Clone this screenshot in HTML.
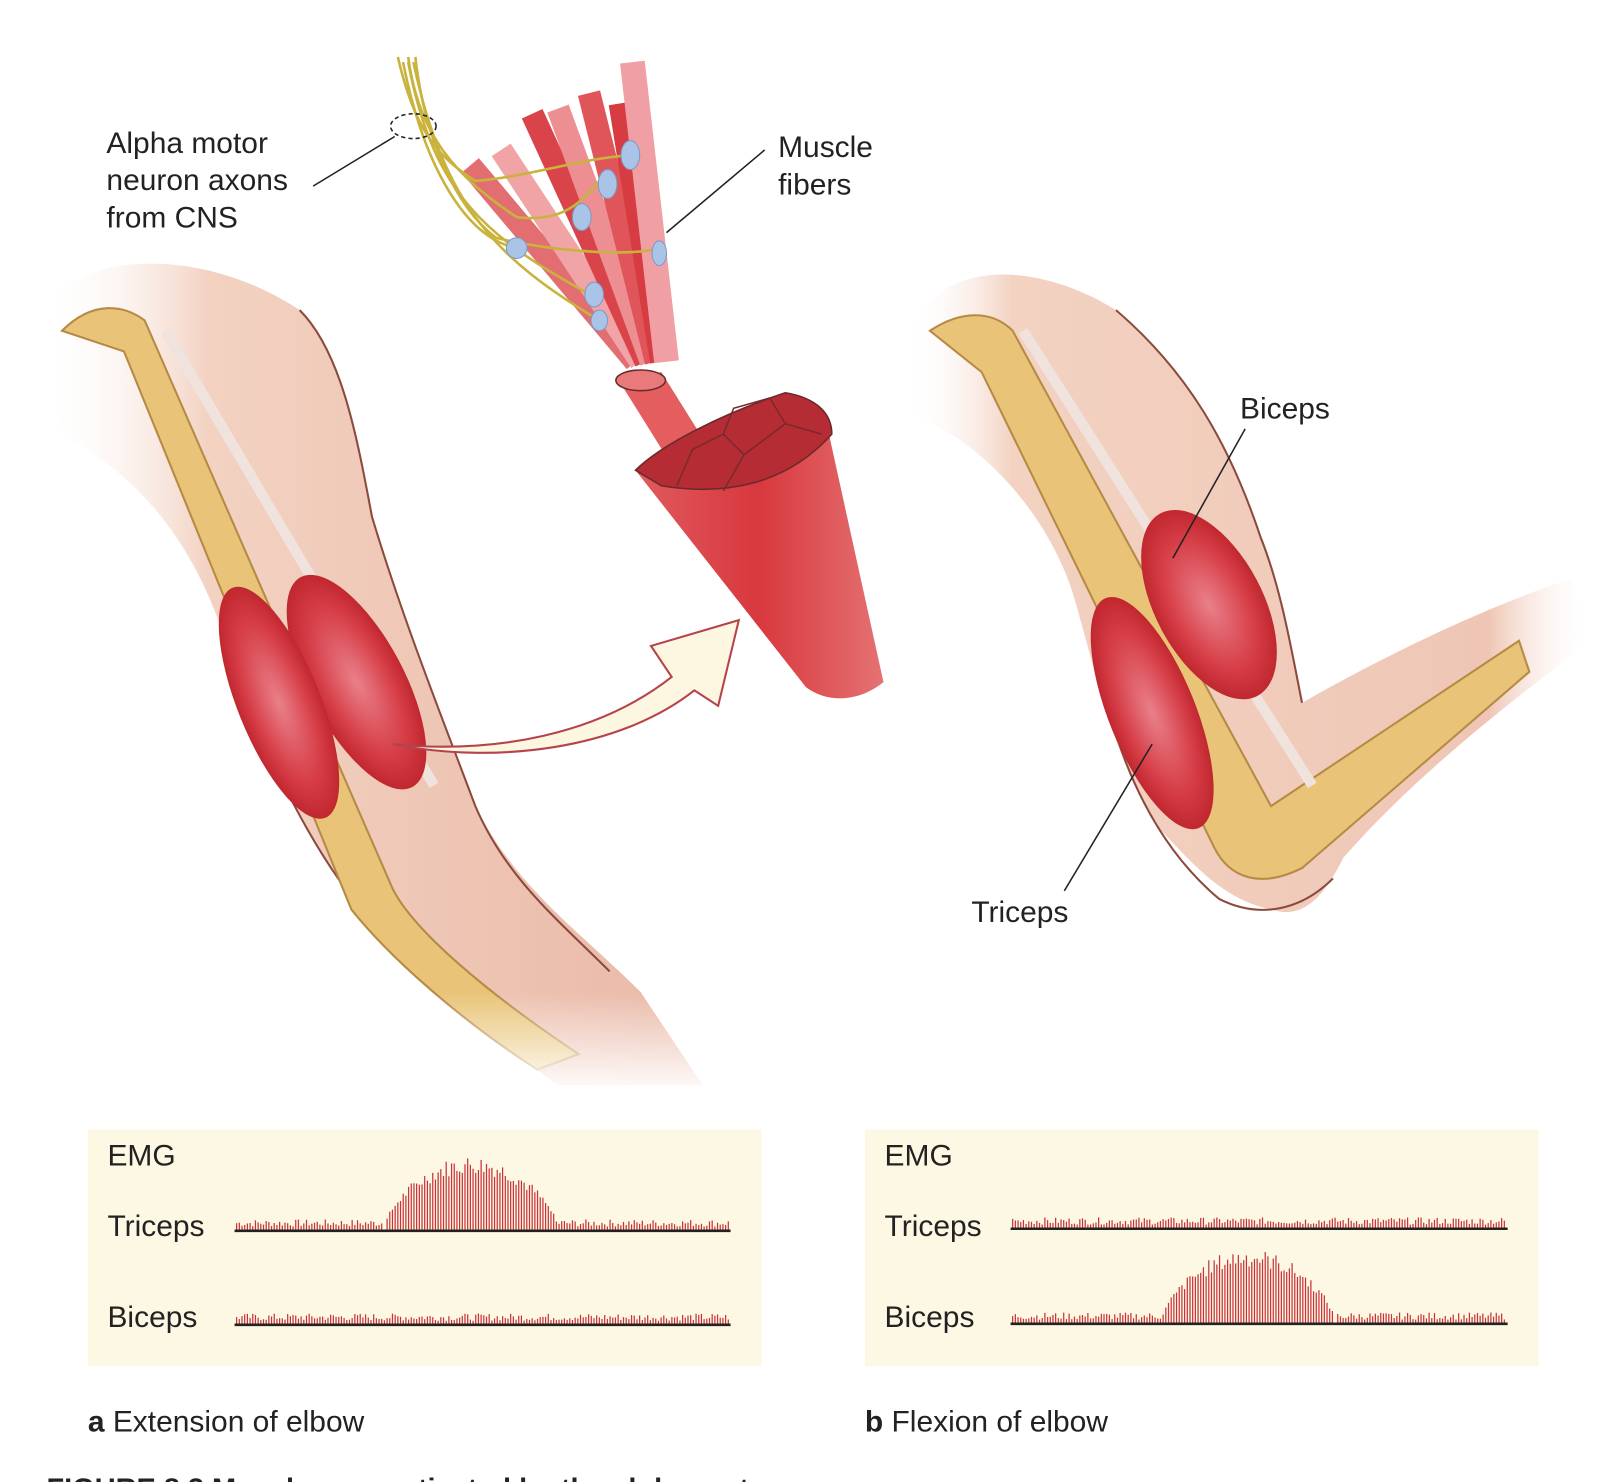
<!DOCTYPE html>
<html><head><meta charset="utf-8"><style>
html,body{margin:0;padding:0;background:#fff;width:1612px;height:1482px;overflow:hidden}
svg{display:block}
text{font-family:"Liberation Sans",sans-serif;fill:#222}
</style></head><body>
<svg id="s" width="1612" height="1482" viewBox="0 0 1560 1434" xmlns="http://www.w3.org/2000/svg">
<defs>
<linearGradient id="skinA" x1="0" y1="0" x2="1" y2="0">
<stop offset="0" stop-color="#fff" stop-opacity="0"/><stop offset="0.25" stop-color="#f3d2c2"/><stop offset="1" stop-color="#e9b8a6"/></linearGradient>
<linearGradient id="skinB" x1="0" y1="0" x2="1" y2="0">
<stop offset="0" stop-color="#fff" stop-opacity="0"/><stop offset="0.15" stop-color="#f3d2c2"/><stop offset="0.85" stop-color="#efc6b5"/><stop offset="1" stop-color="#fff" stop-opacity="0"/></linearGradient>
<radialGradient id="mus" cx="0.5" cy="0.5" r="0.5"><stop offset="0" stop-color="#e9808a"/><stop offset="0.7" stop-color="#d63c45"/><stop offset="1" stop-color="#c1272f"/></radialGradient>
<linearGradient id="cone" x1="0" y1="0" x2="1" y2="0"><stop offset="0" stop-color="#e05a5e"/><stop offset="0.5" stop-color="#d8383e"/><stop offset="1" stop-color="#e57272"/></linearGradient>
<linearGradient id="fade" x1="0" y1="0" x2="0" y2="1"><stop offset="0" stop-color="#fff" stop-opacity="0"/><stop offset="1" stop-color="#fff"/></linearGradient>
</defs>
<!-- Arm A -->
<path d="M40,300 C80,240 200,240 290,300 C330,340 345,420 360,500 C390,600 430,700 460,780 C500,860 560,900 620,960 L680,1050 L540,1050 C470,1000 400,940 350,880 C300,820 250,720 215,610 C190,540 150,470 60,420 Z" fill="url(#skinA)"/>
<path d="M290,300 C330,340 345,420 360,500 C390,600 430,700 460,780 C490,850 540,890 590,940" fill="none" stroke="#8b4a3e" stroke-width="2"/>
<path d="M215,610 C250,720 300,820 350,880" fill="none" stroke="#8b4a3e" stroke-width="2"/>
<path d="M60,320 C90,290 120,295 140,310 L380,860 C400,900 470,960 560,1020 L520,1035 C450,990 380,930 340,880 L120,340 Z" fill="#e9c478" stroke="#b58a45" stroke-width="2"/>
<path d="M160,320 L420,760" stroke="#f0e2dc" stroke-width="10" fill="none"/>
<ellipse cx="345" cy="660" rx="115" ry="46" transform="rotate(62 345 660)" fill="url(#mus)"/>
<ellipse cx="270" cy="680" rx="120" ry="40" transform="rotate(68 270 680)" fill="url(#mus)"/>
<rect x="300" y="960" width="420" height="100" fill="url(#fade)"/>
<!-- arrow -->
<path d="M380,720 C480,730 580,710 650,655 L630,625 L715,600 L695,683 L672,668 C600,725 480,740 380,720 Z" fill="#fdf6e0" stroke="#b4444a" stroke-width="2"/>
<!-- fibers -->
<g stroke-linecap="butt">
<path d="M455,160 L615,350" stroke="#e36e72" stroke-width="22"/>
<path d="M485,145 L620,350" stroke="#f0a4a6" stroke-width="22"/>
<path d="M515,110 L625,350" stroke="#d9444a" stroke-width="22"/>
<path d="M540,105 L630,350" stroke="#ec8e92" stroke-width="22"/>
<path d="M570,90 L635,350" stroke="#e0555a" stroke-width="22"/>
<path d="M600,100 L640,350" stroke="#d63c42" stroke-width="22"/>
<path d="M612,60 L645,350" stroke="#f0a0a4" stroke-width="24"/>
</g>
<g fill="none" stroke="#c9b33c" stroke-width="2.5">
<path d="M385,55 C400,120 420,150 460,175 C520,170 570,150 620,150"/>
<path d="M395,55 C405,130 440,170 500,210 C540,215 560,200 580,175"/>
<path d="M402,55 C410,130 440,200 480,230 C520,240 600,250 640,240"/>
<path d="M390,60 C410,160 450,230 500,240"/>
<path d="M395,60 C420,190 470,230 580,290"/>
<path d="M400,60 C430,200 480,250 580,310"/>
</g>
<g fill="#a9c4e6" stroke="#7d9ac4" stroke-width="1"><ellipse cx="610" cy="150" rx="9" ry="14"/><ellipse cx="588" cy="178" rx="9" ry="14"/><ellipse cx="563" cy="210" rx="9" ry="13"/><ellipse cx="638" cy="245" rx="7" ry="12"/><ellipse cx="500" cy="240" rx="10" ry="10"/><ellipse cx="575" cy="285" rx="9" ry="12"/><ellipse cx="580" cy="310" rx="8" ry="10"/></g>
<ellipse cx="400" cy="122" rx="22" ry="12" fill="none" stroke="#222" stroke-width="1.5" stroke-dasharray="4 3"/>
<path d="M600,370 L640,360 L690,440 L650,450 Z" fill="#e45e60"/>
<ellipse cx="620" cy="368" rx="24" ry="10" fill="#e87a7c" stroke="#6a2a2a" stroke-width="1.5"/>
<path d="M615,455 C700,400 760,380 800,410 L855,660 C830,680 800,680 780,665 Z" fill="url(#cone)"/>
<path d="M615,455 C640,430 700,400 760,380 C790,385 805,400 805,420 C760,470 700,480 640,470 Z" fill="#b52c34" stroke="#6a2a2a" stroke-width="1.5"/>
<g fill="none" stroke="#7a2a2e" stroke-width="1.5"><path d="M655,470 L670,435 L700,420 L720,440 L700,475"/><path d="M700,420 L710,395 L745,385 L760,410 L720,440"/><path d="M760,410 L795,420"/></g>
<!-- Arm B -->
<path d="M880,330 C900,250 1000,250 1080,300 C1150,360 1190,430 1220,520 C1240,570 1250,630 1260,680 C1330,640 1430,590 1520,560 L1540,620 C1460,680 1370,750 1300,830 C1280,870 1260,890 1230,880 C1180,870 1150,830 1120,800 C1080,740 1060,650 1040,580 C1020,510 960,430 880,400 Z" fill="url(#skinB)"/>
<path d="M1080,300 C1150,360 1190,430 1220,520 C1240,570 1250,630 1260,680" fill="none" stroke="#8b4a3e" stroke-width="2"/>
<path d="M1060,630 C1080,740 1120,820 1180,870 C1220,890 1260,880 1290,850" fill="none" stroke="#8b4a3e" stroke-width="2"/>
<path d="M900,320 C930,300 960,300 980,320 L1230,780 L1470,620 L1480,650 L1260,840 C1220,860 1190,850 1175,820 L950,360 Z" fill="#e9c478" stroke="#b58a45" stroke-width="2"/>
<path d="M990,320 L1270,760" stroke="#f0e2dc" stroke-width="10" fill="none"/>
<ellipse cx="1170" cy="585" rx="100" ry="52" transform="rotate(62 1170 585)" fill="url(#mus)"/>
<ellipse cx="1115" cy="690" rx="120" ry="42" transform="rotate(68 1115 690)" fill="url(#mus)"/>
<!-- labels -->
<g font-size="29">
<text x="103" y="148">Alpha motor</text><text x="103" y="184">neuron axons</text><text x="103" y="220">from CNS</text>
<text x="753" y="152">Muscle</text><text x="753" y="188">fibers</text>
<text x="1200" y="405">Biceps</text><text x="940" y="892">Triceps</text>
</g>
<g stroke="#222" stroke-width="1.5"><line x1="303" y1="180" x2="382" y2="132"/><line x1="740" y1="145" x2="645" y2="225"/><line x1="1205" y1="415" x2="1135" y2="540"/><line x1="1030" y1="862" x2="1115" y2="720"/></g>
<!-- EMG boxes -->
<rect x="85" y="1093" width="652" height="229" fill="#fdf8e4"/>
<rect x="837" y="1093" width="652" height="229" fill="#fdf8e4"/>
<g font-size="29"><text x="104" y="1128">EMG</text><text x="104" y="1196">Triceps</text><text x="104" y="1284">Biceps</text>
<text x="856" y="1128">EMG</text><text x="856" y="1196">Triceps</text><text x="856" y="1284">Biceps</text>
<text x="85" y="1385"><tspan font-weight="bold">a</tspan>  Extension of elbow</text>
<text x="837" y="1385"><tspan font-weight="bold">b</tspan>  Flexion of elbow</text></g>
<g id="emg" stroke="#c8323a" stroke-width="1.2"></g>
<g stroke="#222" stroke-width="2.5"><line x1="227" y1="1191" x2="707" y2="1191"/><line x1="227" y1="1282" x2="707" y2="1282"/><line x1="978" y1="1189" x2="1459" y2="1189"/><line x1="978" y1="1281" x2="1459" y2="1281"/></g>
<text x="45" y="1450" font-size="28" font-weight="bold">FIGURE 8.3  Muscles are activated by the alpha motor neurons</text>
</svg>
<script>
var g=document.getElementById('emg'),out='',seed=7;
function r(){seed=(seed*9301+49297)%233280;return seed/233280;}
function trace(x0,x1,y,a,b,h){for(var x=x0;x<x1;x+=2.6){var hh=3+r()*7;if(x>a&&x<b){var t=(x-a)/(b-a);hh=h*Math.pow(Math.sin(Math.PI*t),0.6)*(0.75+0.25*r());}out+='<line x1="'+x+'" y1="'+y+'" x2="'+x+'" y2="'+(y-hh)+'"/>';}}
trace(229,706,1190,372,540,72);trace(229,706,1281,0,0,0);
trace(980,1458,1188,0,0,0);trace(980,1458,1280,1124,1292,72);
g.innerHTML=out;
</script>
</body></html>
